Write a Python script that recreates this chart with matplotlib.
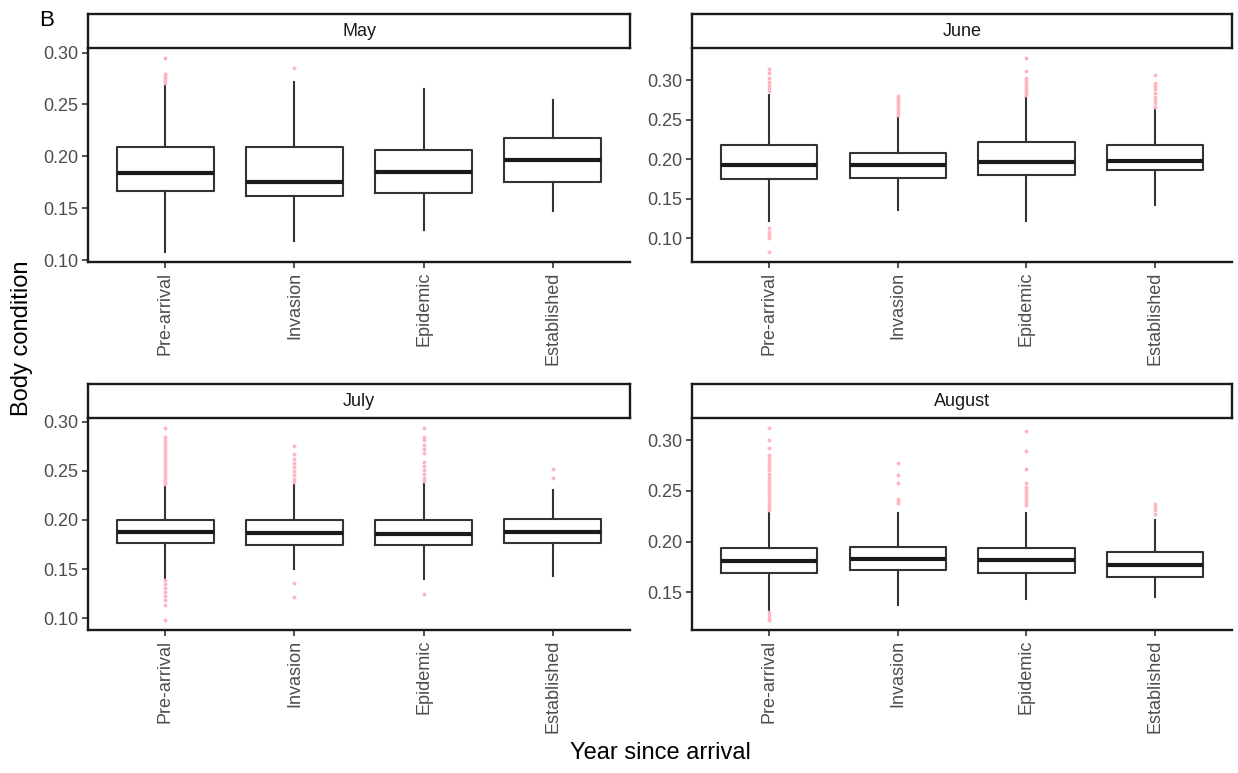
import numpy as np
import matplotlib
matplotlib.use("Agg")
import matplotlib.pyplot as plt

plt.rcParams['font.family'] = ['Liberation Sans', 'DejaVu Sans']

stages = ['Pre-arrival', 'Invasion', 'Epidemic', 'Established']
months = ['May', 'June', 'July', 'August']

# five-number summaries per stage, one list per month
may_lo = [0.1075, 0.118, 0.1292, 0.1475]
may_q1 = [0.1665, 0.1621, 0.1646, 0.1754]
may_med = [0.1839, 0.1754, 0.1853, 0.1967]
may_q3 = [0.2089, 0.2089, 0.2056, 0.218]
may_hi = [0.2689, 0.2715, 0.2649, 0.2541]
may_out = [[0.295, 0.279, 0.277, 0.275, 0.273, 0.271],
           [0.285], [], []]

jun_lo = [0.1214, 0.1359, 0.1222, 0.1423]
jun_q1 = [0.1744, 0.1765, 0.1799, 0.1855]
jun_med = [0.1927, 0.1923, 0.1966, 0.1974]
jun_q3 = [0.2179, 0.2081, 0.2214, 0.2179]
jun_hi = [0.2812, 0.2534, 0.2786, 0.265]
jun_out = [[0.3145, 0.309, 0.3026, 0.298, 0.294, 0.29, 0.2855,
            0.1124, 0.108, 0.104, 0.0996, 0.082],
           [0.2803, 0.277, 0.274, 0.271, 0.268, 0.265, 0.262, 0.2585, 0.2556],
           [0.3282, 0.312, 0.3026, 0.299, 0.296, 0.293, 0.29, 0.287, 0.284, 0.2812],
           [0.3068, 0.296, 0.292, 0.288, 0.284, 0.279, 0.275, 0.271, 0.2662]]

jul_lo = [0.14, 0.1503, 0.1397, 0.1435]
jul_q1 = [0.1764, 0.175, 0.1747, 0.1767]
jul_med = [0.1877, 0.187, 0.186, 0.1877]
jul_q3 = [0.20, 0.20, 0.20, 0.2007]
jul_hi = [0.236, 0.2366, 0.2366, 0.2308]
jul_out = [[0.2938, 0.2846, 0.281, 0.278, 0.275, 0.272, 0.269, 0.266, 0.263,
            0.26, 0.257, 0.254, 0.251, 0.248, 0.245, 0.242, 0.2395, 0.2366,
            0.139, 0.135, 0.131, 0.127, 0.123, 0.119, 0.1134, 0.098],
           [0.2753, 0.2675, 0.262, 0.258, 0.254, 0.25, 0.246, 0.242, 0.2384,
            0.1356, 0.122],
           [0.2938, 0.2846, 0.281, 0.276, 0.272, 0.268, 0.2585, 0.255, 0.251,
            0.247, 0.243, 0.2395, 0.1247],
           [0.2514, 0.2425]]

aug_lo = [0.1326, 0.1378, 0.1437, 0.1458]
aug_q1 = [0.1691, 0.1717, 0.1695, 0.1652]
aug_med = [0.1806, 0.1832, 0.1823, 0.177]
aug_q3 = [0.1938, 0.1944, 0.1938, 0.1898]
aug_hi = [0.2306, 0.2283, 0.2283, 0.2217]
aug_out = [[0.3122, 0.30, 0.2918, 0.2852, 0.282, 0.279, 0.276, 0.273, 0.27,
            0.267, 0.264, 0.261, 0.258, 0.255, 0.252, 0.249, 0.246, 0.243,
            0.24, 0.237, 0.234, 0.2309, 0.1306, 0.128, 0.1252, 0.1224],
           [0.2776, 0.2655, 0.2572, 0.2424, 0.24, 0.2375],
           [0.3089, 0.2891, 0.271, 0.2572, 0.254, 0.251, 0.248, 0.245, 0.242,
            0.2385, 0.2359],
           [0.2368, 0.2338, 0.2306, 0.2276]]

panel_data = {
    'May': (may_lo, may_q1, may_med, may_q3, may_hi, may_out),
    'June': (jun_lo, jun_q1, jun_med, jun_q3, jun_hi, jun_out),
    'July': (jul_lo, jul_q1, jul_med, jul_q3, jul_hi, jul_out),
    'August': (aug_lo, aug_q1, aug_med, aug_q3, aug_hi, aug_out),
}
yticks = {
    'May': [0.10, 0.15, 0.20, 0.25, 0.30],
    'June': [0.10, 0.15, 0.20, 0.25, 0.30],
    'July': [0.10, 0.15, 0.20, 0.25, 0.30],
    'August': [0.15, 0.20, 0.25, 0.30],
}

W, H = 1238, 773
# panel boxes in pixels: left, top of plot area, right, bottom
boxes = {
    'May': (88, 48, 630, 262),
    'June': (692, 48, 1232, 262),
    'July': (88, 418, 630, 630),
    'August': (692, 418, 1232, 630),
}
strip_h = 34
grey = '#4D4D4D'

fig = plt.figure(figsize=(W / 100, H / 100), dpi=100)

for m in months:
    l, t, r, b = boxes[m]
    ax = fig.add_axes([l / W, 1 - b / H, (r - l) / W, (b - t) / H])
    lo, q1, med, q3, hi, out = panel_data[m]
    stats = []
    for i in range(len(stages)):
        stats.append({'whislo': lo[i], 'q1': q1[i], 'med': med[i], 'q3': q3[i],
                      'whishi': hi[i], 'fliers': out[i]})
    ax.bxp(stats, positions=np.arange(1, 5), widths=0.75, showcaps=False,
           boxprops=dict(color='#333333', linewidth=1.5),
           whiskerprops=dict(color='#333333', linewidth=1.5),
           medianprops=dict(color='#1a1a1a', linewidth=3),
           flierprops=dict(marker='o', markersize=2.8, markerfacecolor='#FFB6C1',
                           markeredgecolor='none', linestyle='none'))
    allv = lo + hi + [v for o in out for v in o]
    vmin, vmax = min(allv), max(allv)
    pad = 0.05 * (vmax - vmin)
    ax.set_ylim(vmin - pad, vmax + pad)
    ax.set_xlim(0.4, 4.6)
    ax.set_yticks(yticks[m])
    ax.set_yticklabels(['%.2f' % v for v in yticks[m]])
    ax.set_xticks(np.arange(1, 5))
    ax.set_xticklabels(stages, rotation=90)
    ax.tick_params(axis='both', colors='#333333', labelcolor=grey,
                   labelsize=13, length=4, width=1.2, pad=3)
    for s in ['top', 'right']:
        ax.spines[s].set_visible(False)
    for s in ['left', 'bottom']:
        ax.spines[s].set_linewidth(1.7)
        ax.spines[s].set_color('#1a1a1a')

    # facet strip
    sax = fig.add_axes([l / W, 1 - t / H, (r - l) / W, strip_h / H])
    sax.set_xticks([])
    sax.set_yticks([])
    for s in sax.spines.values():
        s.set_linewidth(1.7)
        s.set_color('#1a1a1a')
    sax.text(0.5, 0.5, m, ha='center', va='center', fontsize=13,
             color='#1a1a1a', transform=sax.transAxes)

fig.text(22 / W, 1 - 338 / H, 'Body condition', rotation=90, ha='center',
         va='center', fontsize=17)
fig.text(660 / W, 1 - 753 / H, 'Year since arrival', ha='center', va='center',
         fontsize=17)
fig.text(39 / W, 1 - 20 / H, 'B', ha='left', va='center', fontsize=16)

fig.savefig('out.png', dpi=100)
